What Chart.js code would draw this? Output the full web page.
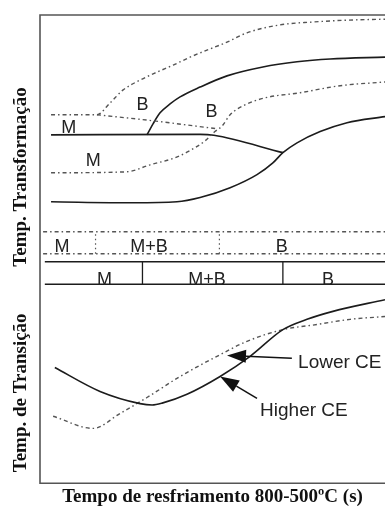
<!DOCTYPE html>
<html><head><meta charset="utf-8">
<script src="https://cdn.jsdelivr.net/npm/chart.js@4.4.0/dist/chart.umd.min.js"></script>
<style>html,body{margin:0;padding:0;background:#fff;}#wrap{width:385px;height:508px;position:relative;}</style>
</head><body><div id="wrap"><canvas id="c"></canvas></div>
<script>
// x: tempo de resfriamento (schematic units 0-100), y: temperature (schematic units 0-100)
// Top panel – transformation temperatures
const lowerCE_Bs = [[3.2,78.7],[16.5,78.7],[20.3,81.2],[24.1,84.0],[29.0,86.1],[33.9,87.8],[38.6,89.3],[43.5,91.0],[48.4,92.5],[54.2,94.2],[60.0,96.2],[69.6,97.9],[79.1,98.5],[89.0,98.9],[100,99.1]];
const lowerCE_Ms = [[16.5,78.7],[32.8,77.4],[51.3,75.7]];
const lowerCE_Bf = [[3.2,66.3],[25.0,66.5],[31.9,68.0],[39.1,69.5],[42.9,70.8],[47.8,73.1],[50.7,75.1],[52.8,76.3],[55.1,78.7],[59.4,80.8],[65.2,82.3],[75.4,83.4],[87.0,84.9],[100,85.7]];
const higherCE_Ms = [[3.2,74.4],[46.4,74.5],[50.4,74.3],[70.4,70.6]];
const higherCE_Bs = [[31.0,74.4],[32.8,76.8],[34.8,79.1],[37.7,81.0],[40.6,82.5],[46.4,84.6],[54.2,87.0],[64.6,88.9],[74.5,90.0],[84.1,90.6],[100,91.0]];
const higherCE_Bf = [[3.2,60.1],[27.0,59.9],[39.7,60.1],[46.4,61.0],[55.1,63.1],[62.9,65.9],[67.5,68.4],[70.4,70.6],[74.5,72.7],[81.2,75.1],[89.0,77.0],[100,78.3]];
// Middle – microstructure bands
const bandLowerY = [53.7, 49.0];          // dotted band (lower CE)
const bandLowerDividers = [16.1, 52.0];
const bandHigherY = [47.3, 42.5];         // solid band (higher CE)
const bandHigherDividers = [29.7, 70.4];
// Bottom panel – transition temperature
const higherCE_Tt = [[4.3,24.7],[17.4,19.6],[29.0,17.0],[32.5,16.7],[35.4,17.1],[42.6,19.0],[52.2,22.8],[60.9,27.1],[70.4,32.8],[77.4,35.0],[84.9,36.7],[100,39.2]];
const lowerCE_Tt = [[3.8,14.3],[15.4,11.7],[23.2,14.9],[31.0,18.3],[40.6,22.8],[51.3,27.1],[60.0,30.3],[70.4,32.8],[80.3,33.9],[89.9,35.0],[100,35.6]];
// Text
const regionLabels = ['M','B','B','M','M','M+B','B','M','M+B','B'];
const regionLabelX = [8.3,29.7,49.7,15.4,6.4,31.6,70.1,18.7,48.4,83.5];
const regionLabelY = [74.7,79.7,78.3,67.8,49.3,49.3,49.3,42.4,42.4,42.4];
const ceLabels = ['Lower CE','Higher CE'];
const ceLabelX = [74.8,63.8];
const ceLabelY = [24.7,14.3];
const arrowTail = [[73.0,26.7],[62.9,18.1]];
const arrowTip = [[54.2,27.3],[52.2,22.8]];
const yTitles = ['Temp. Transformação','Temp. de Transição'];
const yTitleCenter = [65.4,19.3];
const xTitle = 'Tempo de resfriamento 800-500ºC (s)';

const SOLID = {borderColor:'#1c1c1c', borderWidth:1.6};
const DASHDOT = {borderColor:'#555', borderWidth:1.4, borderDash:[4,3,1.5,3]};
const SMOOTH = {cubicInterpolationMode:'monotone'};
function ds(pts, ...styles){
  return Object.assign({data: pts.map(p=>({x:p[0],y:p[1]})), showLine:true, pointRadius:0, fill:false, tension:0}, ...styles);
}
const datasets = [
  ds(lowerCE_Bs, DASHDOT, SMOOTH),
  ds(lowerCE_Ms, DASHDOT, SMOOTH),
  ds(lowerCE_Bf, DASHDOT, SMOOTH),
  ds(higherCE_Ms, SOLID, SMOOTH),
  ds(higherCE_Bs, SOLID, SMOOTH),
  ds(higherCE_Bf, SOLID, SMOOTH),
  ds(higherCE_Tt, SOLID, SMOOTH),
  ds(lowerCE_Tt, DASHDOT, SMOOTH)
];
bandLowerY.forEach(v=>datasets.push(ds([[0.9,v],[100,v]], DASHDOT)));
bandLowerDividers.forEach(v=>datasets.push(ds([[v,bandLowerY[1]],[v,bandLowerY[0]]], {borderColor:'#555', borderWidth:1.2, borderDash:[1.5,3]})));
bandHigherY.forEach(v=>datasets.push(ds([[1.4,v],[100,v]], SOLID)));
bandHigherDividers.forEach(v=>datasets.push(ds([[v,bandHigherY[1]],[v,bandHigherY[0]]], SOLID, {borderWidth:1.3})));

const SANS = '"Liberation Sans", Arial, Helvetica, sans-serif';
const SERIF = '"Liberation Serif", "Times New Roman", serif';
const overlay = {
  id:'overlay',
  afterDatasetsDraw(chart){
    const {ctx, chartArea:a, scales:{x,y}} = chart;
    ctx.save();
    ctx.strokeStyle='#555'; ctx.lineWidth=1.6; ctx.setLineDash([]);
    ctx.beginPath();
    ctx.moveTo(a.right+2,a.top); ctx.lineTo(a.left,a.top); ctx.lineTo(a.left,a.bottom); ctx.lineTo(a.right+2,a.bottom);
    ctx.stroke();
    ctx.fillStyle='#222';
    ctx.font='18px '+SANS; ctx.textAlign='center'; ctx.textBaseline='alphabetic';
    regionLabels.forEach((t,i)=>ctx.fillText(t, x.getPixelForValue(regionLabelX[i]), y.getPixelForValue(regionLabelY[i])));
    ctx.font='19px '+SANS; ctx.textAlign='left';
    ceLabels.forEach((t,i)=>ctx.fillText(t, x.getPixelForValue(ceLabelX[i]), y.getPixelForValue(ceLabelY[i])));
    ctx.strokeStyle='#111'; ctx.fillStyle='#111'; ctx.lineWidth=1.5;
    arrowTail.forEach((tl,i)=>{
      const x0=x.getPixelForValue(tl[0]), y0=y.getPixelForValue(tl[1]);
      const x1=x.getPixelForValue(arrowTip[i][0]), y1=y.getPixelForValue(arrowTip[i][1]);
      const ang=Math.atan2(y1-y0,x1-x0), L=19, W=6.5;
      const bx=x1-L*Math.cos(ang), by=y1-L*Math.sin(ang);
      ctx.beginPath(); ctx.moveTo(x0,y0); ctx.lineTo(bx,by); ctx.stroke();
      ctx.beginPath(); ctx.moveTo(x1,y1);
      ctx.lineTo(bx+W*Math.sin(ang), by-W*Math.cos(ang));
      ctx.lineTo(bx-W*Math.sin(ang), by+W*Math.cos(ang));
      ctx.closePath(); ctx.fill();
    });
    ctx.font='bold 19px '+SERIF; ctx.textAlign='center'; ctx.textBaseline='alphabetic';
    yTitles.forEach((t,i)=>{
      ctx.save(); ctx.translate(a.left-14, y.getPixelForValue(yTitleCenter[i])); ctx.rotate(-Math.PI/2);
      ctx.fillText(t,0,0); ctx.restore();
    });
    ctx.restore();
  }
};

new Chart(document.getElementById('c'), {
  type:'scatter',
  data:{datasets},
  options:{
    animation:false, responsive:true, maintainAspectRatio:false,
    layout:{padding:{left:40, top:15, right:0, bottom:0}},
    plugins:{legend:{display:false}, tooltip:{enabled:false}},
    scales:{
      x:{type:'linear', min:0, max:100, grid:{display:false, drawTicks:false}, ticks:{display:false}, border:{display:false},
         title:{display:true, text:xTitle, color:'#111', font:{family:SERIF, size:19, weight:'bold'}, padding:{top:2, bottom:0}}},
      y:{type:'linear', min:0, max:100, display:false}
    }
  },
  plugins:[overlay]
});
</script></body></html>
